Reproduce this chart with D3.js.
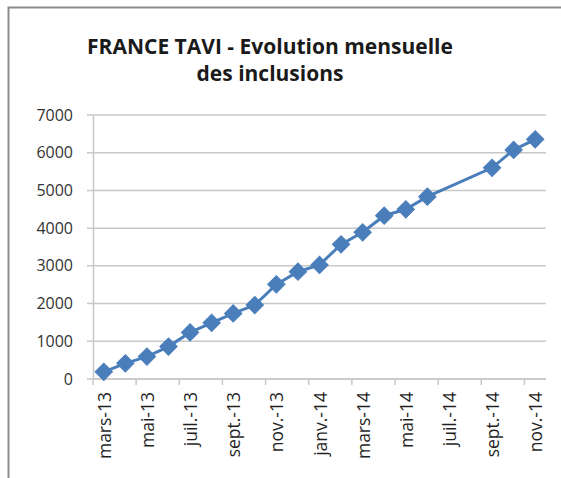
<!DOCTYPE html>
<html>
<head>
<meta charset="utf-8">
<script src="https://cdn.jsdelivr.net/npm/d3@7"></script>
<style>
  body { margin: 0; background: #fff; }
  svg { display: block; }
</style>
</head>
<body>
<div id="chart"></div>
<script>
var width = 561,
	height = 478,
	marginLeft = 93,
	marginRight = 15,
	plotTop = 115,
	plotBottom = 379;

// months, mars-13 .. nov.-14 (juil.-14 and août-14 have no value)
var months = ["mars-13", "avr.-13", "mai-13", "juin-13", "juil.-13", "août-13", "sept.-13",
	"oct.-13", "nov.-13", "déc.-13", "janv.-14", "févr.-14", "mars-14", "avr.-14",
	"mai-14", "juin-14", "juil.-14", "août-14", "sept.-14", "oct.-14", "nov.-14"];
var inclusions = [190, 415, 595, 860, 1235, 1490, 1740, 1960, 2510, 2845, 3025, 3570,
	3890, 4330, 4500, 4835, null, null, 5600, 6075, 6355];
var yTicks = [0, 1000, 2000, 3000, 4000, 5000, 6000, 7000];
var titleLines = ["FRANCE TAVI - Evolution mensuelle", "des inclusions"];

var svg = d3.select("#chart").append("svg")
	.attr("width", width)
	.attr("height", height);

// frame (only top and left visible in the cropped picture)
svg.append("rect")
	.attr("x", 8.5).attr("y", 7.5)
	.attr("width", width + 20).attr("height", height + 20)
	.style("fill", "#fff")
	.style("stroke", "#8c8c8c")
	.style("stroke-width", 2);

var x = d3.scaleBand()
	.domain(months)
	.range([marginLeft, width - marginRight]);

var y = d3.scaleLinear()
	.domain([0, 7000])
	.range([plotBottom, plotTop]);

// title
svg.append("g").selectAll("text")
	.data(titleLines)
	.enter().append("text")
	.attr("x", 270)
	.attr("y", function(d, i) { return 54 + i * 27; })
	.attr("text-anchor", "middle")
	.style("font-family", "'Open Sans', sans-serif")
	.style("font-weight", "bold")
	.style("font-size", "21px")
	.style("fill", "#1a1a1a")
	.text(function(d) { return d; });

// gridlines
svg.append("g").selectAll("line")
	.data(yTicks)
	.enter().append("line")
	.attr("x1", marginLeft - 6)
	.attr("x2", width - marginRight)
	.attr("y1", function(d) { return y(d); })
	.attr("y2", function(d) { return y(d); })
	.style("stroke", "#c8c8c8")
	.style("stroke-width", 1.5);

// y axis
var yAxis = svg.append("g")
	.attr("transform", "translate(" + marginLeft + ",0)")
	.call(d3.axisLeft(y).tickValues(yTicks).tickFormat(d3.format("d")).tickSize(0).tickPadding(20));
yAxis.select(".domain").style("stroke", "#c8c8c8").style("stroke-width", 1.5);
yAxis.selectAll("text")
	.style("font-family", "'Open Sans', sans-serif")
	.style("font-size", "16px")
	.style("fill", "#333");

// x axis: tick marks between categories, every 2 months
var xAxis = svg.append("g")
	.attr("transform", "translate(0," + plotBottom + ")");
xAxis.append("line")
	.attr("x1", marginLeft).attr("x2", width - marginRight)
	.style("stroke", "#c8c8c8").style("stroke-width", 1.5);
xAxis.selectAll(".tick")
	.data(months.filter(function(d, i) { return i % 2 == 0; }))
	.enter().append("line")
	.attr("class", "tick")
	.attr("x1", function(d) { return x(d); })
	.attr("x2", function(d) { return x(d); })
	.attr("y1", 0).attr("y2", 6)
	.style("stroke", "#c8c8c8").style("stroke-width", 1.5);
xAxis.selectAll(".label")
	.data(months.filter(function(d, i) { return i % 2 == 0; }))
	.enter().append("text")
	.attr("class", "label")
	.attr("transform", function(d) {
		return "translate(" + (x(d) + x.bandwidth() / 2 + 7) + ",13) rotate(-90)";
	})
	.attr("text-anchor", "end")
	.style("font-family", "'Open Sans', sans-serif")
	.style("font-size", "17.5px")
	.style("fill", "#1f1f1f")
	.text(function(d) { return d; });

// series
var points = months.map(function(m, i) { return {month: m, value: inclusions[i]}; })
	.filter(function(d) { return d.value != null; });

var line = d3.line()
	.x(function(d) { return x(d.month) + x.bandwidth() / 2; })
	.y(function(d) { return y(d.value); });

svg.append("path")
	.datum(points)
	.attr("d", line)
	.style("fill", "none")
	.style("stroke", "#4a7ebb")
	.style("stroke-width", 3);

svg.append("g").selectAll("path")
	.data(points)
	.enter().append("path")
	.attr("d", d3.symbol().type(d3.symbolSquare).size(150))
	.attr("transform", function(d) {
		return "translate(" + (x(d.month) + x.bandwidth() / 2) + "," + y(d.value) + ") rotate(45)";
	})
	.style("fill", "#4a7ebb")
	.style("stroke", "#4a7ebb")
	.style("stroke-width", 1);
</script>
</body>
</html>
